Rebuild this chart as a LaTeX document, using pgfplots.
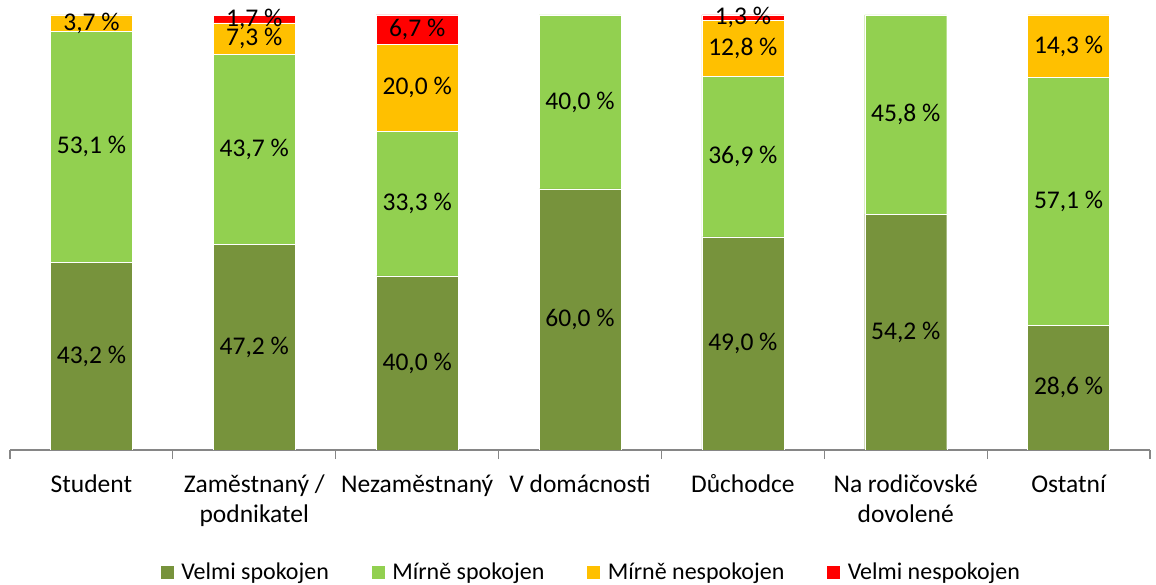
\documentclass[border=0pt]{standalone}
\usepackage{fontspec}
\setmainfont{Carlito}
\usepackage{pgfplots}
\pgfplotsset{compat=1.18}
\usepackage{pgfplotstable}
\definecolor{cVS}{HTML}{77933C}
\definecolor{cMS}{HTML}{92D050}
\definecolor{cMN}{HTML}{FFC000}
\definecolor{cVN}{HTML}{FF0000}
\definecolor{axgray}{HTML}{868686}
% x, velmi spokojen, mirne spokojen, mirne nespokojen, velmi nespokojen
\pgfplotstableread{
x vs ms mn vn
0 43.2 53.1 3.7 0
1 47.2 43.7 7.3 1.7
2 40.0 33.3 20.0 6.7
3 60.0 40.0 0 0
4 49.0 36.9 12.8 1.3
5 54.2 45.8 0 0
6 28.6 57.1 14.3 0
}\datatable
\pgfplotsset{
  calculate nz/.code={%
    \pgfkeys{/pgf/fpu=true,/pgf/fpu/output format=fixed}%
    \pgfmathsetmacro\nz{\pgfplotspointmeta>0.05}%
    \pgfkeys{/pgf/fpu=false}%
  },
}
\begin{document}
\begin{tikzpicture}
\path[use as bounding box] (0,0) rectangle (1156bp,585bp);
\begin{axis}[
  at={(10bp,135bp)}, anchor=south west,
  scale only axis, width=1140bp, height=435bp,
  ybar stacked, bar width=82bp,
  xmin=-0.5, xmax=6.5, ymin=0, ymax=100,
  axis y line=none,
  axis x line*=bottom,
  x axis line style={draw=axgray, line width=1.2bp, -},
  xtick={0,...,6},
  xticklabels={Student, {Zaměstnaný /\\podnikatel}, Nezaměstnaný, V domácnosti, Důchodce, {Na rodičovské\\dovolené}, Ostatní},
  major x tick style={draw=none},
  minor xtick={-0.5,0.5,...,6.5},
  minor x tick style={draw=axgray, line width=1.2bp},
  minor tick length=9bp,
  tick align=outside,
  xticklabel style={font=\fontsize{25.5bp}{30bp}\selectfont, align=center, anchor=north, yshift=-17bp},
  /pgf/number format/assume math mode=true,
  point meta=explicit,
  nodes near coords={\ifdim\nz pt>0.5pt\pgfmathprintnumber[fixed,fixed zerofill,precision=1,use comma]{\pgfplotspointmeta}~\%\fi},
  every node near coord/.style={/pgfplots/calculate nz, anchor=center, font=\fontsize{25.5bp}{30bp}\selectfont, text=black},
  legend columns=4,
  legend style={at={(0.5096,-0.2805)}, anchor=center, draw=none, fill=none,
    font=\fontsize{24bp}{28bp}\selectfont,
    /tikz/every odd column/.append style={column sep=5bp},
    /tikz/every even column/.append style={column sep=40bp},
    inner sep=0pt, row sep=0pt},
  legend image code/.code={\fill[#1] (0bp,-7bp) rectangle (14bp,7bp);},
  legend cell align=left,
]
\addplot+[fill=cVS, draw=white, line width=0.4bp] table[x=x, y=vs, meta=vs] {\datatable};
\addlegendentry{Velmi spokojen}
\addplot+[fill=cMS, draw=white, line width=0.4bp] table[x=x, y=ms, meta=ms] {\datatable};
\addlegendentry{Mírně spokojen}
\addplot+[fill=cMN, draw=white, line width=0.4bp] table[x=x, y=mn, meta=mn] {\datatable};
\addlegendentry{Mírně nespokojen}
\addplot+[fill=cVN, draw=white, line width=0.4bp] table[x=x, y=vn, meta=vn] {\datatable};
\addlegendentry{Velmi nespokojen}
\end{axis}
\end{tikzpicture}
\end{document}
